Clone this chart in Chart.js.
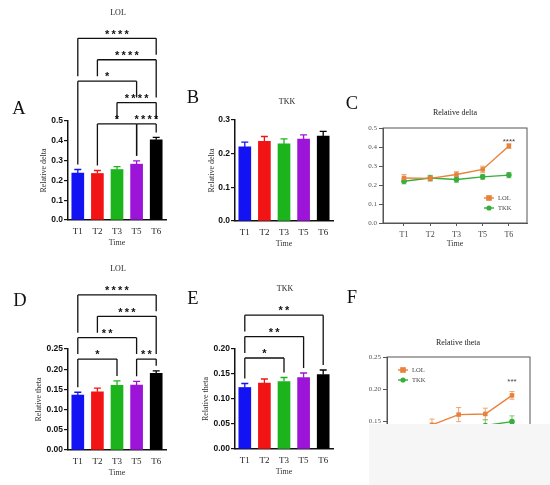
<!DOCTYPE html>
<html><head><meta charset="utf-8">
<script src="https://cdn.jsdelivr.net/npm/chart.js@4.4.1/dist/chart.umd.min.js"></script>
<style>
html,body{margin:0;padding:0;background:#fff;}
body{width:550px;height:485px;overflow:hidden;position:relative;}
canvas.layer{position:absolute;left:0;top:0;}
.lbl{position:absolute;font-family:'Liberation Serif','Times New Roman',serif;color:#111;transform:translate(-50%,-50%);white-space:nowrap;line-height:1;}
.big{font-size:18.5px;}
.ttl{font-size:8px;color:#222;}
#veil{position:absolute;left:369px;top:424px;width:181px;height:61px;background:#f6f6f6;}
</style></head><body>
<canvas class="layer" id="cA" width="550" height="560"></canvas>
<canvas class="layer" id="cB" width="550" height="560"></canvas>
<canvas class="layer" id="cC" width="550" height="560"></canvas>
<canvas class="layer" id="cD" width="550" height="560"></canvas>
<canvas class="layer" id="cE" width="550" height="560"></canvas>
<canvas class="layer" id="cF" width="550" height="560"></canvas>

<div class="lbl big" style="left:19px;top:108px">A</div>
<div class="lbl big" style="left:193px;top:97px">B</div>
<div class="lbl big" style="left:352px;top:103px">C</div>
<div class="lbl big" style="left:20px;top:300px">D</div>
<div class="lbl big" style="left:193px;top:298px">E</div>
<div class="lbl big" style="left:352px;top:297px">F</div>

<div class="lbl ttl" style="left:118px;top:13px">LOL</div>
<div class="lbl ttl" style="left:287px;top:102px">TKK</div>
<div class="lbl ttl" style="left:455px;top:113px">Relative delta</div>
<div class="lbl ttl" style="left:118px;top:269px">LOL</div>
<div class="lbl ttl" style="left:285px;top:289px">TKK</div>
<div class="lbl ttl" style="left:458px;top:343px">Relative theta</div>
<div id="veil"></div>

<script>
// ---------- data ----------
const times = ['T1', 'T2', 'T3', 'T5', 'T6'];
const groups = ['LOL', 'TKK'];

const deltaLOL = [0.237, 0.235, 0.255, 0.282, 0.405];
const deltaLOLErr = [0.018, 0.015, 0.015, 0.017, 0.012];
const deltaTKK = [0.220, 0.237, 0.229, 0.243, 0.252];
const deltaTKKErr = [0.014, 0.014, 0.015, 0.013, 0.014];

const thetaLOL = [0.136, 0.144, 0.160, 0.161, 0.190];
const thetaLOLErr = [0.007, 0.009, 0.011, 0.009, 0.006];
const thetaTKK = [0.123, 0.132, 0.135, 0.143, 0.149];
const thetaTKKErr = [0.008, 0.008, 0.008, 0.009, 0.009];

// pairwise comparisons: [from index, to index, stars, tier]
const sigDeltaLOL = [[1, 3, '*', 0], [3, 4, '****', 0], [2, 4, '****', 1], [0, 3, '*', 2], [1, 4, '****', 3], [0, 4, '****', 4]];
const sigThetaLOL = [[0, 2, '*', 0], [3, 4, '**', 0], [0, 3, '**', 1], [1, 4, '***', 2], [0, 4, '****', 3]];
const sigThetaTKK = [[0, 2, '*', 0], [0, 3, '**', 1], [0, 4, '**', 2]];
// LOL vs TKK at each time point
const sigDeltaGroups = ['', '', '', '', '****'];
const sigThetaGroups = ['', '', '', '', '***'];

// ---------- style ----------
const serif = "'Liberation Serif','Times New Roman',serif";
const sans = "'Liberation Sans',Arial,sans-serif";
const barColors = ['#1212F2', '#F21414', '#1CB41C', '#9B14D8', '#000000'];
const lineColors = ['#E8813A', '#38AE3C'];
const errColors = ['#F2A46E', '#78C97A'];
const CW = 550, CH = 560;
const STEP = 21.4;

function errBarsForBars(errs) {
  return {
    id: 'errbars',
    afterDatasetsDraw(chart) {
      const ctx = chart.ctx, ys = chart.scales.y;
      const ds = chart.data.datasets[0];
      const meta = chart.getDatasetMeta(0);
      ctx.save();
      ctx.lineWidth = 1.3;
      meta.data.forEach((bar, i) => {
        const yTop = ys.getPixelForValue(ds.data[i] + errs[i]);
        const yv = ys.getPixelForValue(ds.data[i]);
        ctx.strokeStyle = ds.backgroundColor[i];
        ctx.beginPath();
        ctx.moveTo(bar.x, yv); ctx.lineTo(bar.x, yTop);
        ctx.moveTo(bar.x - 3.5, yTop); ctx.lineTo(bar.x + 3.5, yTop);
        ctx.stroke();
      });
      ctx.restore();
    }
  };
}

function brackets(items, errs, base, gap) {
  return {
    id: 'brackets',
    afterDatasetsDraw(chart) {
      const xs = chart.scales.x, ys = chart.scales.y, ctx = chart.ctx;
      const means = chart.data.datasets[0].data;
      const y0 = ys.getPixelForValue(base);
      const list = items.map(([a, b, label, tier]) => ({a, b, label, y: y0 - tier * STEP}));
      ctx.save();
      ctx.strokeStyle = '#111';
      ctx.lineWidth = 1.3;
      list.forEach(it => {
        const xa = xs.getPixelForValue(it.a), xb = xs.getPixelForValue(it.b);
        ctx.beginPath();
        ctx.moveTo(xa, it.y); ctx.lineTo(xb, it.y);
        [[it.a, xa], [it.b, xb]].forEach(([c, x]) => {
          let stop = ys.getPixelForValue(means[c] + errs[c]) - gap;
          list.forEach(o => { if (o !== it && o.y > it.y && o.a <= c && c <= o.b) stop = Math.min(stop, o.y - gap); });
          ctx.moveTo(x, it.y); ctx.lineTo(x, stop);
        });
        ctx.stroke();
        ctx.fillStyle = '#111';
        ctx.font = 'bold 11px ' + sans;
        ctx.textAlign = 'center';
        ctx.textBaseline = 'alphabetic';
        const n = it.label.length, cx = (xa + xb) / 2;
        for (let k = 0; k < n; k++) ctx.fillText('*', cx + (k - (n - 1) / 2) * 6.5, it.y - 0.8);
      });
      ctx.restore();
    }
  };
}

function barPanel(id, area, yw, yMax, yStep, dec, yTitle, means, errs, sig, base) {
  const [l, t, r, b] = area;
  const xh = 29;
  new Chart(document.getElementById(id), {
    type: 'bar',
    data: {labels: times, datasets: [{data: means, backgroundColor: barColors, borderWidth: 0, barThickness: 12}]},
    options: {
      responsive: false, animation: false,
      layout: {padding: {left: l - yw, top: t, right: CW - r, bottom: CH - b - xh}},
      plugins: {legend: {display: false}, tooltip: {enabled: false}},
      scales: {
        x: {
          afterFit: s => { s.height = xh; },
          ticks: {font: {family: serif, size: 9}, color: '#222', padding: 2},
          grid: {drawOnChartArea: false, tickLength: 4, color: 'rgba(0,0,0,0)'},
          border: {color: '#111', width: 1.5},
          title: {display: true, text: 'Time', font: {family: serif, size: 8}, color: '#333', padding: {top: 0, bottom: 1}}
        },
        y: {
          min: 0, max: yMax,
          afterFit: s => { s.width = yw; },
          ticks: {stepSize: yStep, callback: v => Number(v).toFixed(dec), font: {family: sans, size: 8.5, weight: 'bold'}, color: '#111', padding: 1},
          grid: {drawOnChartArea: false, tickLength: 4, color: '#111', lineWidth: 1.2},
          border: {color: '#111', width: 1.5},
          title: {display: true, text: yTitle, font: {family: serif, size: 8}, color: '#333', padding: {top: 2, bottom: 0}}
        }
      }
    },
    plugins: sig ? [errBarsForBars(errs), brackets(sig, errs, base, 5)] : [errBarsForBars(errs)]
  });
}

function linePanel(id, area, xr, yMax, yStep, dec, series, errs, sigLabels, starGap, legendPos) {
  const [l, t, r, b] = area;
  const yw = 30, xh = 26;
  const styles = ['rect', 'circle'];
  const radii = [3.2, 2.8];
  const datasets = series.map((vals, d) => ({
    label: groups[d],
    data: vals.map((v, i) => ({x: i, y: v})),
    borderColor: lineColors[d], backgroundColor: lineColors[d],
    borderWidth: 1.4, pointStyle: styles[d], pointRadius: radii[d], pointBorderWidth: 0,
    tension: 0
  }));
  const errPlugin = {
    id: 'lineerr',
    beforeDatasetsDraw(chart) {
      const ctx = chart.ctx, ys = chart.scales.y;
      ctx.save(); ctx.lineWidth = 1;
      series.forEach((vals, d) => {
        const meta = chart.getDatasetMeta(d);
        ctx.strokeStyle = errColors[d];
        meta.data.forEach((p, i) => {
          const y1 = ys.getPixelForValue(vals[i] + errs[d][i]);
          const y2 = ys.getPixelForValue(vals[i] - errs[d][i]);
          ctx.beginPath();
          ctx.moveTo(p.x, y1); ctx.lineTo(p.x, y2);
          ctx.moveTo(p.x - 2.5, y1); ctx.lineTo(p.x + 2.5, y1);
          ctx.moveTo(p.x - 2.5, y2); ctx.lineTo(p.x + 2.5, y2);
          ctx.stroke();
        });
      });
      ctx.restore();
    }
  };
  const extras = {
    id: 'extras',
    afterDraw(chart) {
      const ctx = chart.ctx, ca = chart.chartArea, xs = chart.scales.x, ys = chart.scales.y;
      ctx.save();
      ctx.strokeStyle = '#555'; ctx.lineWidth = 1;
      ctx.strokeRect(ca.left, ca.top, ca.right - ca.left, ca.bottom - ca.top);
      // group significance
      ctx.fillStyle = '#444';
      ctx.font = '8px ' + sans;
      ctx.textAlign = 'center'; ctx.textBaseline = 'alphabetic';
      sigLabels.forEach((s, i) => {
        if (!s) return;
        const top = Math.max(...series.map((v, d) => v[i] + errs[d][i]));
        ctx.fillText(s, xs.getPixelForValue(i), ys.getPixelForValue(top) - starGap + 4);
      });
      // legend
      const [lx, ly] = legendPos;
      datasets.forEach((ds, d) => {
        const y = ly + d * 10;
        ctx.strokeStyle = lineColors[d]; ctx.lineWidth = 1.4;
        ctx.beginPath(); ctx.moveTo(lx - 5, y); ctx.lineTo(lx + 5, y); ctx.stroke();
        ctx.fillStyle = lineColors[d];
        if (d === 0) ctx.fillRect(lx - 2.8, y - 2.8, 5.6, 5.6);
        else { ctx.beginPath(); ctx.arc(lx, y, 2.6, 0, Math.PI * 2); ctx.fill(); }
        ctx.fillStyle = '#444';
        ctx.font = '6.5px ' + serif;
        ctx.textAlign = 'left'; ctx.textBaseline = 'middle';
        ctx.fillText(ds.label, lx + 9, y);
      });
      ctx.restore();
    }
  };
  new Chart(document.getElementById(id), {
    type: 'line',
    data: {datasets},
    options: {
      responsive: false, animation: false,
      layout: {padding: {left: l - yw, top: t, right: CW - r, bottom: CH - b - xh}},
      plugins: {legend: {display: false}, tooltip: {enabled: false}},
      scales: {
        x: {
          type: 'linear', min: xr[0], max: xr[1],
          afterFit: s => { s.height = xh; },
          afterBuildTicks: s => { s.ticks = times.map((_, i) => ({value: i})); },
          ticks: {callback: v => times[v], font: {family: serif, size: 8}, color: '#444', padding: 4, autoSkip: false, maxRotation: 0},
          grid: {drawOnChartArea: false, tickLength: 3, color: '#555', lineWidth: 1},
          border: {color: '#555', width: 1},
          title: {display: true, text: 'Time', font: {family: serif, size: 8}, color: '#333', padding: {top: 0, bottom: 0}}
        },
        y: {
          min: 0, max: yMax,
          afterFit: s => { s.width = yw; },
          ticks: {stepSize: yStep, callback: v => Number(v).toFixed(dec), font: {family: serif, size: 7}, color: '#555', padding: 2},
          grid: {drawOnChartArea: false, tickLength: 4, color: '#555', lineWidth: 1},
          border: {color: '#555', width: 1}
        }
      }
    },
    plugins: [errPlugin, extras]
  });
}

barPanel('cA', [68, 121, 166, 220], 31, 0.5, 0.1, 1, 'Relative delta', deltaLOL, deltaLOLErr, sigDeltaLOL, 0.485);
barPanel('cB', [235, 120, 333, 221], 30, 0.3, 0.1, 1, 'Relative delta', deltaTKK, deltaTKKErr, null, 0);
barPanel('cD', [68, 349, 166, 450], 36, 0.25, 0.05, 2, 'Relative theta', thetaLOL, thetaLOLErr, sigThetaLOL, 0.225);
barPanel('cE', [235, 349, 333, 449], 36, 0.20, 0.05, 2, 'Relative theta', thetaTKK, thetaTKKErr, sigThetaTKK, 0.182);

linePanel('cC', [383, 128, 527, 223], [-0.8, 4.69], 0.5, 0.1, 1, [deltaLOL, deltaTKK], [deltaLOLErr, deltaTKKErr], sigDeltaGroups, 4, [489, 198]);
linePanel('cF', [387, 357, 530, 517], [-0.686, 4.675], 0.25, 0.05, 2, [thetaLOL, thetaTKK], [thetaLOLErr, thetaTKKErr], sigThetaGroups, 12, [403, 370]);
</script>
</body></html>
